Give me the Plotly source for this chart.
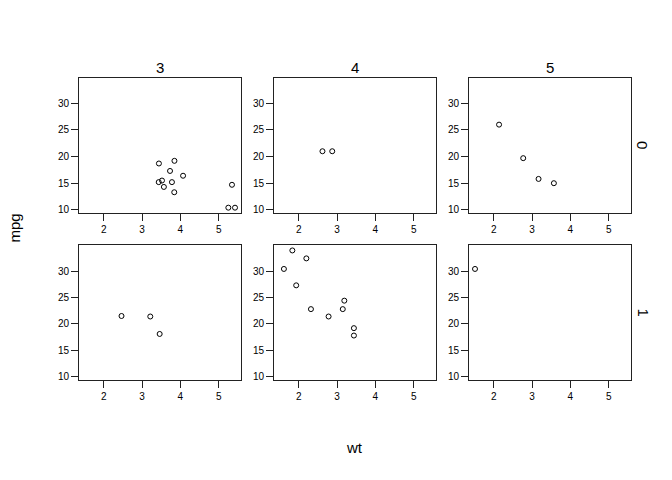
import plotly.graph_objects as go

# mtcars: weight vs mpg, panels by gear (columns) and vs (rows)
gears = [3, 4, 5]
vs_levels = [0, 1]

wt = [2.620, 2.875, 2.320, 3.215, 3.440, 3.460, 3.570, 3.190, 3.150, 3.440,
      3.440, 4.070, 3.730, 3.780, 5.250, 5.424, 5.345, 2.200, 1.615, 1.835,
      2.465, 3.520, 3.435, 3.840, 3.845, 1.935, 2.140, 1.513, 3.170, 2.770,
      3.570, 2.780]
mpg = [21.0, 21.0, 22.8, 21.4, 18.7, 18.1, 14.3, 24.4, 22.8, 19.2,
       17.8, 16.4, 17.3, 15.2, 10.4, 10.4, 14.7, 32.4, 30.4, 33.9,
       21.5, 15.5, 15.2, 13.3, 19.2, 27.3, 26.0, 30.4, 15.8, 19.7,
       15.0, 21.4]
vs = [0, 0, 1, 1, 0, 1, 0, 1, 1, 1,
      1, 0, 0, 0, 0, 0, 0, 1, 1, 1,
      1, 0, 0, 0, 0, 1, 0, 1, 0, 0,
      0, 1]
gear = [4, 4, 4, 3, 3, 3, 3, 4, 4, 4,
        4, 3, 3, 3, 3, 3, 3, 4, 4, 4,
        3, 3, 3, 3, 3, 4, 5, 5, 5, 5,
        5, 4]

x_ticks = [2, 3, 4, 5]
y_ticks = [10, 15, 20, 25, 30]

# page has an 8px body margin, so the figure sits at (8, 8)
OFF = 8
W, H = 672 - OFF, 480 - OFF
col_px = [(79, 241), (274, 436), (469, 631)]
row_px = [(78, 214), (247, 382)]


def px_x(p):
    return (p - OFF) / W


def px_y(p):
    return 1 - (p - OFF) / H


# ranges like R's 4% extension
xr = [min(wt) - 0.04 * (max(wt) - min(wt)), max(wt) + 0.04 * (max(wt) - min(wt))]
yr = [min(mpg) - 0.04 * (max(mpg) - min(mpg)), max(mpg) + 0.04 * (max(mpg) - min(mpg))]

font = "Liberation Sans, Arial, sans-serif"
fig = go.Figure()
layout = {}
k = 0
for r, v in enumerate(vs_levels):
    for c, g in enumerate(gears):
        k += 1
        xs = [a for a, gg, vv in zip(wt, gear, vs) if gg == g and vv == v]
        ys = [b for b, gg, vv in zip(mpg, gear, vs) if gg == g and vv == v]
        fig.add_trace(go.Scatter(
            x=xs, y=ys, mode="markers",
            xaxis=f"x{k}", yaxis=f"y{k}", showlegend=False,
            marker=dict(symbol="circle-open", size=5, color="black",
                        line=dict(width=1, color="black"))))
        ax = dict(domain=[px_x(col_px[c][0]), px_x(col_px[c][1])],
                  range=xr, tickvals=x_ticks, ticks="outside", ticklen=7,
                  tickcolor="#222", showline=True, mirror=True, linecolor="#222",
                  linewidth=1, showgrid=False, zeroline=False,
                  tickfont=dict(size=10, color="black", family=font),
                  anchor=f"y{k}")
        ay = dict(domain=[px_y(row_px[r][1]), px_y(row_px[r][0])],
                  range=yr, tickvals=y_ticks, ticks="outside", ticklen=7,
                  tickcolor="#222", showline=True, mirror=True, linecolor="#222",
                  linewidth=1, showgrid=False, zeroline=False,
                  tickfont=dict(size=10, color="black", family=font),
                  anchor=f"x{k}")
        sfx = "" if k == 1 else str(k)
        layout[f"xaxis{sfx}"] = ax
        layout[f"yaxis{sfx}"] = ay

lab_font = dict(size=15, color="black", family=font)
annotations = []
for c, g in enumerate(gears):
    annotations.append(dict(text=str(g), x=px_x((col_px[c][0] + col_px[c][1]) / 2),
                            y=px_y(68), xref="paper", yref="paper",
                            xanchor="center", yanchor="middle",
                            showarrow=False, font=lab_font))
for r, v in enumerate(vs_levels):
    annotations.append(dict(text=str(v), x=px_x(643),
                            y=px_y((row_px[r][0] + row_px[r][1]) / 2),
                            xref="paper", yref="paper", textangle=90,
                            xanchor="center", yanchor="middle",
                            showarrow=False, font=lab_font))
annotations.append(dict(text="mpg", x=px_x(15), y=px_y(230), xref="paper", yref="paper",
                        textangle=-90, xanchor="center", yanchor="middle",
                        showarrow=False, font=lab_font))
annotations.append(dict(text="wt", x=px_x(355), y=px_y(450), xref="paper", yref="paper",
                        xanchor="center", yanchor="middle",
                        showarrow=False, font=lab_font))

fig.update_layout(width=W, height=H, margin=dict(l=0, r=0, t=0, b=0),
                  plot_bgcolor="white", paper_bgcolor="white",
                  annotations=annotations, **layout)

fig.write_html("out.html")
